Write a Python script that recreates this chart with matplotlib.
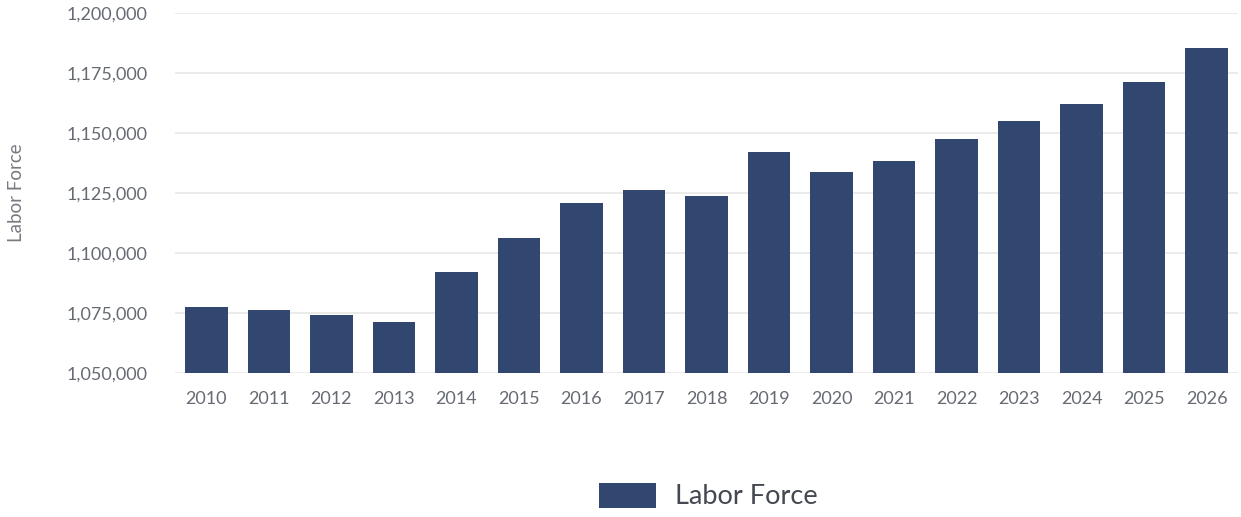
import matplotlib
matplotlib.use("Agg")
import matplotlib.pyplot as plt
from matplotlib.ticker import FuncFormatter

years = ["2010", "2011", "2012", "2013", "2014", "2015", "2016", "2017", "2018",
         "2019", "2020", "2021", "2022", "2023", "2024", "2025", "2026"]
labor_force = [1077500, 1076250, 1074200, 1071250, 1092100, 1106250, 1120800,
               1126250, 1123750, 1142100, 1133750, 1138300, 1147500, 1155000,
               1162100, 1171250, 1185400]
y_ticks = [1050000, 1075000, 1100000, 1125000, 1150000, 1175000, 1200000]

plt.rcParams['font.family'] = ['Lato', 'DejaVu Sans']

fig = plt.figure(figsize=(12.41, 5.17), dpi=100)
ax = fig.add_axes([175/1241, 1-373/517, (1238-175)/1241, (373-13)/517])

bars = ax.bar(range(len(years)), labor_force, width=0.68, color="#31476f",
              label="Labor Force", zorder=3)
ax.set_xlim(-0.5, len(years)-0.5)
ax.set_ylim(1050000, 1200000)
ax.set_yticks(y_ticks)
ax.yaxis.set_major_formatter(FuncFormatter(lambda v, p: f"{int(v):,}"))
ax.set_xticks(range(len(years)))
ax.set_xticklabels(years)
ax.grid(axis='y', color="#e8e8e8", linewidth=1.2, zorder=0)
ax.grid(axis='x', visible=False)
for s in ax.spines.values():
    s.set_visible(False)
ax.tick_params(axis='both', length=0, labelsize=13, colors="#666a73")
ax.tick_params(axis='y', pad=20)
ax.tick_params(axis='x', pad=13)
ax.set_ylabel("Labor Force", fontsize=13.5, color="#777a80")
ax.yaxis.label.set_va('center')
ax.yaxis.set_label_coords(-(175-17)/1063, 0.5)

fig.legend(handles=[bars], labels=["Labor Force"], loc="center",
           bbox_to_anchor=(708/1241, 1-496/517), frameon=False,
           fontsize=19.5, handlelength=2.1, handleheight=1.05, handletextpad=0.7,
           labelcolor="#444850")

fig.savefig("out.png", dpi=100)
